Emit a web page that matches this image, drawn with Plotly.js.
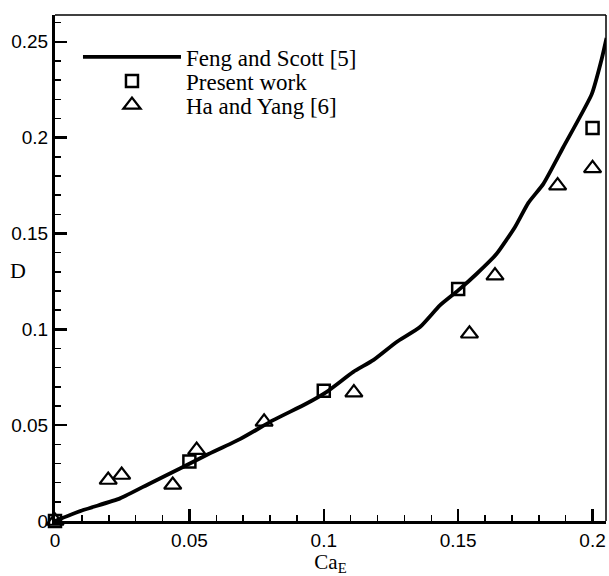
<!DOCTYPE html>
<html>
<head>
<meta charset="utf-8">
<script src="https://cdn.plot.ly/plotly-3.0.1.min.js"></script>
<style>html,body{margin:0;padding:0;background:#fff;}#chart{width:609px;height:576px;}</style>
</head>
<body>
<div id="chart"></div>
<script>
// Feng and Scott [5] curve
const fengX = [0, 0.0105, 0.0242, 0.0353, 0.0465, 0.0564, 0.0688, 0.0812, 0.0936, 0.1011, 0.111, 0.1184, 0.1271, 0.1358, 0.1432, 0.150, 0.1569, 0.1643, 0.1711, 0.1761, 0.1817, 0.1891, 0.1997, 0.2034, 0.2052];
const fengY = [0, 0.0057, 0.0118, 0.0196, 0.0274, 0.0344, 0.0427, 0.0526, 0.0613, 0.0674, 0.0778, 0.0839, 0.0934, 0.1012, 0.1125, 0.1203, 0.129, 0.1394, 0.1533, 0.166, 0.1759, 0.195, 0.2227, 0.241, 0.252];
// Present work
const presentX = [0, 0.05, 0.1, 0.15, 0.2];
const presentY = [0, 0.031, 0.068, 0.121, 0.205];
// Ha and Yang [6]
const haX = [0, 0.0198, 0.0248, 0.0438, 0.0527, 0.0778, 0.1112, 0.1542, 0.1637, 0.187, 0.2];
const haY = [0, 0.0214, 0.024, 0.0188, 0.037, 0.0517, 0.067, 0.0977, 0.128, 0.175, 0.184];
const seriesNames = ["Feng and Scott [5]", "Present work", "Ha and Yang [6]"];
const xTitle = "Ca<sub>E</sub>";
const yTitle = "D";

const serif = "Liberation Serif, Times New Roman, serif";
const sans = "Liberation Sans, Arial, sans-serif";

const traces = [
  {x: fengX, y: fengY, name: seriesNames[0], mode: "lines", type: "scatter", legend: "legend",
   line: {color: "#000", width: 3.8, shape: "spline", smoothing: 0.5}},
  {x: presentX, y: presentY, name: seriesNames[1], mode: "markers", type: "scatter", cliponaxis: false, legend: "legend2",
   marker: {symbol: "square-open", size: 12, color: "#000", line: {width: 2.5, color: "#000"}}},
  {x: haX, y: haY, name: seriesNames[2], mode: "markers", type: "scatter", cliponaxis: false, legend: "legend3",
   marker: {symbol: "triangle-up-open", size: 15, color: "#000", line: {width: 2.2, color: "#000"}}}
];

function legendAt(yPaper) {
  return {x: 0.0417, y: yPaper, xanchor: "left", yanchor: "middle", bgcolor: "rgba(0,0,0,0)",
          font: {family: serif, size: 23, color: "#000"}, itemwidth: 98};
}

const layout = {
  width: 609, height: 576,
  margin: {l: 55, r: 3, t: 15, b: 55},
  paper_bgcolor: "#fff", plot_bgcolor: "#fff",
  showlegend: true,
  legend: legendAt(0.917),
  legend2: legendAt(0.8696),
  legend3: legendAt(0.8221),
  xaxis: {range: [0, 0.205], dtick: 0.05, tick0: 0, showgrid: false, zeroline: false,
          showline: true, linewidth: 3, linecolor: "#000", mirror: false,
          ticks: "inside", ticklen: 12, tickwidth: 2.5, tickcolor: "#000",
          minor: {dtick: 0.01, ticks: "inside", ticklen: 6, tickwidth: 1.5, tickcolor: "#000", showgrid: false},
          tickfont: {family: sans, size: 19, color: "#000"},
          title: {text: xTitle, font: {family: serif, size: 21, color: "#000"}, standoff: 9}},
  yaxis: {range: [0, 0.264], dtick: 0.05, tick0: 0, showgrid: false, zeroline: false,
          showline: true, linewidth: 3, linecolor: "#000", mirror: false,
          ticks: "inside", ticklen: 12, tickwidth: 2.5, tickcolor: "#000",
          minor: {dtick: 0.01, ticks: "inside", ticklen: 6, tickwidth: 1.5, tickcolor: "#000", showgrid: false},
          tickfont: {family: sans, size: 19, color: "#000"}},
  shapes: [
    {type: "line", xref: "paper", yref: "paper", x0: 0, x1: 1, y0: 1, y1: 1, line: {color: "#000", width: 1.5}},
    {type: "line", xref: "paper", yref: "paper", x0: 1, x1: 1, y0: 0, y1: 1, line: {color: "#000", width: 1.5}}
  ],
  annotations: [
    {text: yTitle, xref: "paper", yref: "paper", x: -0.068, y: 0.495, xanchor: "center", yanchor: "middle",
     showarrow: false, font: {family: serif, size: 22, color: "#000"}}
  ]
};

Plotly.newPlot("chart", traces, layout, {displayModeBar: false, staticPlot: true});
</script>
</body>
</html>
